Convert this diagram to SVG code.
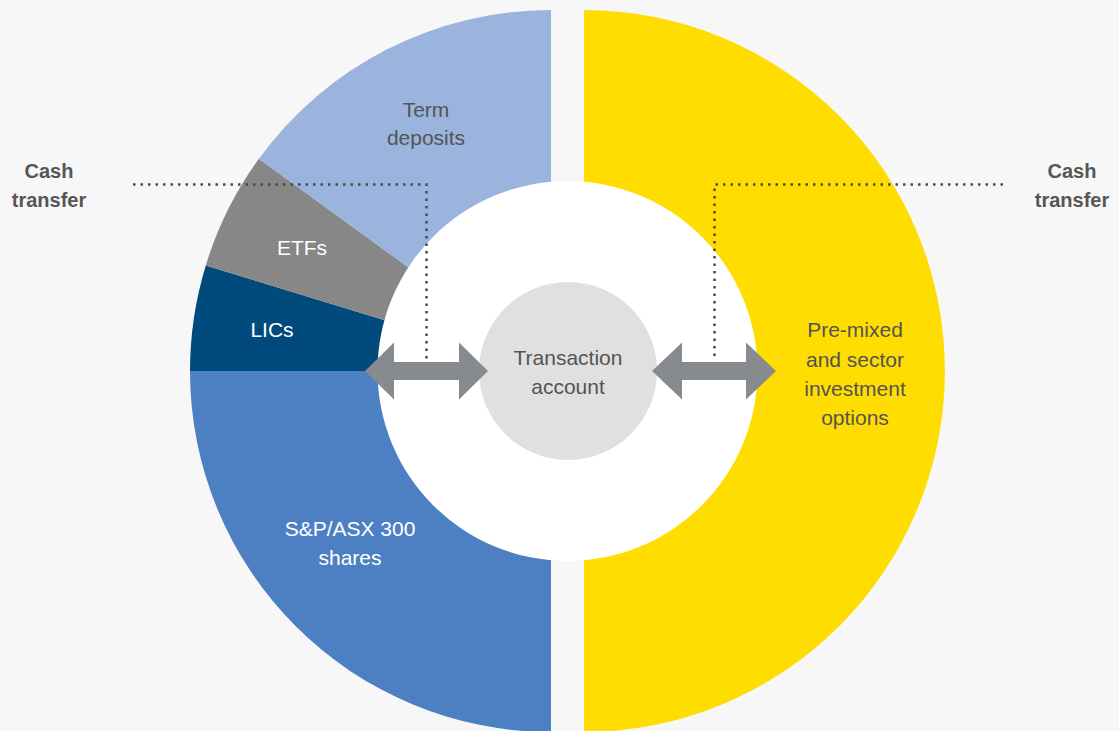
<svg xmlns="http://www.w3.org/2000/svg" width="1119" height="731" viewBox="0 0 1119 731">
  <style>
    .lbl { font-family: "Liberation Sans", Arial, sans-serif; font-size: 21px; text-anchor: middle; }
    .dark { fill: #545454; }
    .light { fill: #ffffff; }
    .cash { font-family: "Liberation Sans", Arial, sans-serif; font-size: 20px; font-weight: bold; fill: #565656; text-anchor: middle; }
    .dot { fill: none; stroke: #4a4a4a; stroke-width: 2.5; stroke-dasharray: 2.5 5; }
    .arrow { fill: #878a8e; }
  </style>
  <rect width="1119" height="731" fill="#f7f7f7"/>

  <g id="shares">
    <path d="M551,371 L190,371 A361,361 0 0 0 551,732 Z" fill="#4d80c3"/>
  </g>
  <g id="lics">
    <path d="M551,371 L190,371 A361,361 0 0 1 205.8,265.4 Z" fill="#004b7c"/>
  </g>
  <g id="etfs">
    <path d="M551,371 L205.8,265.4 A361,361 0 0 1 258.9,158.8 Z" fill="#878787"/>
  </g>
  <g id="term-deposits">
    <path d="M551,371 L258.9,158.8 A361,361 0 0 1 551,10 Z" fill="#9bb4de"/>
  </g>
  <g id="premixed">
    <path d="M584,10 A361,361 0 0 1 584,732 Z" fill="#ffdd00"/>
  </g>
  <g id="inner">
    <circle cx="567.5" cy="371" r="190" fill="#ffffff"/>
  </g>
  <g id="transaction-account">
    <circle cx="568" cy="371" r="89" fill="#e0e0e0"/>
    <text class="lbl dark" x="568" y="365">Transaction</text>
    <text class="lbl dark" x="568" y="394">account</text>
  </g>

  <g id="connectors">
    <polyline class="dot" points="133,184.5 426.5,184.5 426.5,360"/>
    <polyline class="dot" points="1003,184.5 714.5,184.5 714.5,360"/>
    <polygon class="arrow" points="365,371 394,342.5 394,362 459,362 459,342.5 488,371 459,399.5 459,380 394,380 394,399.5"/>
    <polygon class="arrow" points="652,371 682,342.5 682,362 746,362 746,342.5 776,371 746,399.5 746,380 682,380 682,399.5"/>
  </g>

  <g id="labels">
    <text class="lbl dark" x="426" y="117">Term</text>
    <text class="lbl dark" x="426" y="145">deposits</text>
    <text class="lbl light" x="302" y="255">ETFs</text>
    <text class="lbl light" x="272" y="337">LICs</text>
    <text class="lbl light" x="350" y="536">S&amp;P/ASX 300</text>
    <text class="lbl light" x="350" y="565">shares</text>
    <text class="lbl dark" x="855" y="337">Pre-mixed</text>
    <text class="lbl dark" x="855" y="367">and sector</text>
    <text class="lbl dark" x="855" y="396">investment</text>
    <text class="lbl dark" x="855" y="425">options</text>
  </g>

  <g id="cash-transfer-left">
    <text class="cash" x="49" y="178">Cash</text>
    <text class="cash" x="49" y="207">transfer</text>
  </g>
  <g id="cash-transfer-right">
    <text class="cash" x="1072" y="178">Cash</text>
    <text class="cash" x="1072" y="207">transfer</text>
  </g>
</svg>
